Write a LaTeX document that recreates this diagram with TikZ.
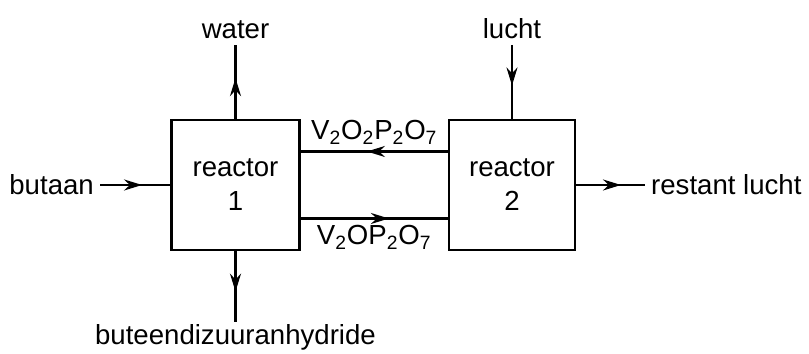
\documentclass[tikz,border=0pt]{standalone}
\usepackage{fontspec}
\setmainfont{Liberation Sans}
\usetikzlibrary{arrows.meta}
\usetikzlibrary{decorations.markings, math}
\usetikzlibrary{positioning}

\tikzset{
 reactor/.style={draw, line width=1.6, minimum width=2.56cm, minimum height=2.6cm, align=center, inner sep=0},
 flow/.style={line width=1.3, decoration={markings, mark=at position #1 with {\arrow{Stealth[length=3.6mm,width=2.2mm]}}}, postaction={decorate}},
 flow/.default=0.6
}

\begin{document}
\begin{tikzpicture}[font=\fontsize{15.7}{19.3}\selectfont]
\tikzmath{
\yc=3.38;
\yt=6.18;
\dy=0.67;
}
\useasboundingbox (0,0) rectangle (16.18,7.08);

%reactors:
 \node[reactor] (r1) at (4.71,\yc) {reactor\\1};
 \node[reactor, minimum width=2.52cm] (r2) at (10.24,\yc) {reactor\\2};

%streams in and out:
 \node[anchor=east] (butaan) at (2.0,\yc) {butaan};
 \node[anchor=south] (water) at (4.71,\yt) {water};
 \node[anchor=south] (lucht) at (10.24,\yt) {lucht};
 \node[anchor=west] (rest) at (12.9,\yc) {restant lucht};
 \node[anchor=north, inner sep=1pt] (anhydride) at (4.71,0.64) {buteendizuuranhydride};

 \draw[flow] (butaan) -- (r1);
 \draw[flow=0.55] (r1) -- (water);
 \draw[flow=0.55] (lucht) -- (r2);
 \draw[flow=0.65] (r2) -- (rest);
 \draw[flow=0.57] (r1) -- (anhydride);

%catalyst circulation
 \draw[flow=0.55] ([yshift=\dy cm]r2.west) -- node[above] {V\textsubscript{2}O\textsubscript{2}P\textsubscript{2}O\textsubscript{7}} ([yshift=\dy cm]r1.east);
 \draw[flow] ([yshift=-\dy cm]r1.east) -- node[below] {V\textsubscript{2}OP\textsubscript{2}O\textsubscript{7}} ([yshift=-\dy cm]r2.west);
\end{tikzpicture}
\end{document}
